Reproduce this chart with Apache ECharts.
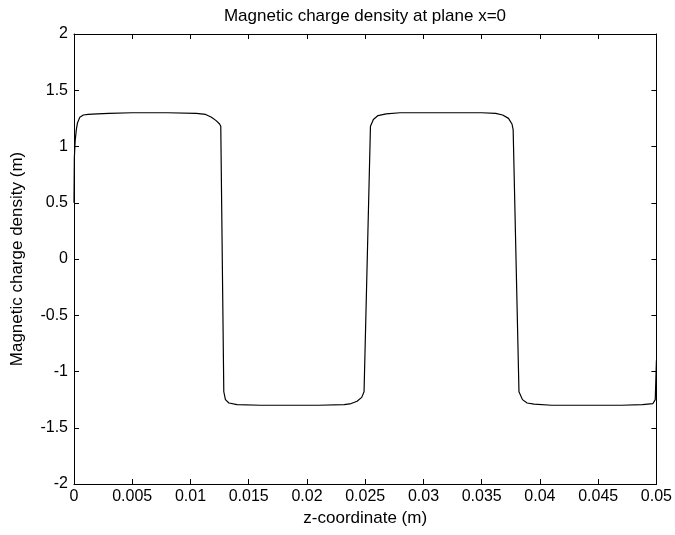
<!DOCTYPE html>
<html>
<head>
<meta charset="utf-8">
<script src="https://cdn.jsdelivr.net/npm/echarts@6/dist/echarts.min.js"></script>
<style>html,body{margin:0;padding:0;background:#fff}#c{width:675px;height:535px}</style>
</head>
<body>
<div id="c"></div>
<script>
var titleText = "Magnetic charge density at plane x=0";
var xName = "z-coordinate (m)";
var yName = "Magnetic charge density (m)";
var xTicks = [0, 0.005, 0.01, 0.015, 0.02, 0.025, 0.03, 0.035, 0.04, 0.045, 0.05];
var yTicks = [-2, -1.5, -1, -0.5, 0, 0.5, 1, 1.5, 2];
var zCoord = [0, 0.00003, 0.0001, 0.0002, 0.0003, 0.0005, 0.0008, 0.0012, 0.002, 0.003, 0.005, 0.008,
  0.0105, 0.0113, 0.0118, 0.0122, 0.0125, 0.0126, 0.01286, 0.0130, 0.0133, 0.0140, 0.016, 0.021,
  0.0232, 0.0238, 0.0243, 0.0247, 0.0249, 0.02545, 0.0257, 0.0261, 0.0268, 0.028, 0.035,
  0.0362, 0.0368, 0.0373, 0.0376, 0.0377, 0.0382, 0.0385, 0.0389, 0.0395, 0.041, 0.047,
  0.0488, 0.0497, 0.0499, 0.05];
var density = [0.5, 0.9, 1.05, 1.15, 1.21, 1.26, 1.28, 1.285, 1.29, 1.295, 1.3, 1.3,
  1.295, 1.285, 1.26, 1.23, 1.2, 1.18, -1.18, -1.25, -1.28, -1.295, -1.3, -1.3,
  -1.295, -1.285, -1.265, -1.23, -1.18, 1.18, 1.24, 1.275, 1.29, 1.3, 1.3,
  1.295, 1.28, 1.25, 1.2, 1.15, -1.18, -1.25, -1.28, -1.29, -1.3, -1.3,
  -1.295, -1.285, -1.25, -0.9];

var pts = zCoord.map(function(z, i){ return [z, density[i]]; });
var font = "'Liberation Sans', Arial, sans-serif";
var chart = echarts.init(document.getElementById('c'));
var tickStyle = {show:true, inside:true, length:5, lineStyle:{color:'#000', width:1}};
chart.setOption({
  animation:false,
  backgroundColor:'#fff',
  title:{text:titleText, left:360, top:3, textAlign:'center',
    textStyle:{fontFamily:font, fontSize:17, fontWeight:'normal', color:'#000'}},
  grid:{left:74, right:18, top:34, bottom:51, show:false},
  xAxis:[{
    type:'value', min:xTicks[0], max:xTicks[xTicks.length-1], interval:0.005,
    name:xName, nameLocation:'middle', nameGap:26,
    nameTextStyle:{fontFamily:font, fontSize:17, color:'#000'},
    axisLine:{show:true, onZero:false, lineStyle:{color:'#000', width:1}},
    axisTick:tickStyle, splitLine:{show:false},
    axisLabel:{fontFamily:font, fontSize:16, color:'#000', margin:5}
  },{
    type:'value', position:'top', min:xTicks[0], max:xTicks[xTicks.length-1], interval:0.005,
    axisLine:{show:true, onZero:false, lineStyle:{color:'#000', width:1}},
    axisTick:tickStyle, axisLabel:{show:false}, splitLine:{show:false}
  }],
  yAxis:[{
    type:'value', min:yTicks[0], max:yTicks[yTicks.length-1], interval:0.5,
    name:yName, nameLocation:'middle', nameGap:48, nameRotate:90,
    nameTextStyle:{fontFamily:font, fontSize:17, color:'#000'},
    axisLine:{show:true, onZero:false, lineStyle:{color:'#000', width:1}},
    axisTick:tickStyle, splitLine:{show:false},
    axisLabel:{fontFamily:font, fontSize:16, color:'#000', margin:6}
  },{
    type:'value', position:'right', min:yTicks[0], max:yTicks[yTicks.length-1], interval:0.5,
    axisLine:{show:true, onZero:false, lineStyle:{color:'#000', width:1}},
    axisTick:tickStyle, axisLabel:{show:false}, splitLine:{show:false}
  }],
  series:[{
    type:'line', data:pts, showSymbol:false, symbol:'none', smooth:false,
    lineStyle:{color:'#000', width:1.2}
  }]
});
</script>
</body>
</html>
